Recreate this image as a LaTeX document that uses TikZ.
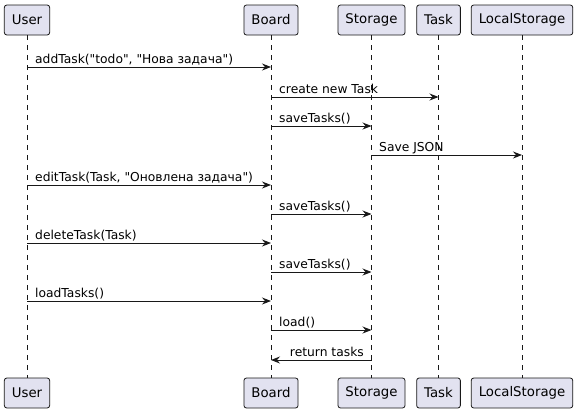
\documentclass[tikz,border=0pt]{standalone}
\usepackage{fontspec}
\setmainfont{DejaVu Sans}[Ligatures=TeXOff]
\usetikzlibrary{arrows.meta, positioning}
\definecolor{partfill}{HTML}{E2E2F0}
\definecolor{partline}{HTML}{181818}
\tikzset{
  part/.style={draw=partline, fill=partfill, rounded corners=2.5pt, line width=0.8pt,
    minimum height=30pt, inner xsep=7.5pt, font=\fontsize{13.3}{15}\selectfont},
  life/.style={draw=partline, line width=0.5pt, dash pattern=on 5pt off 5pt},
  msg/.style={draw=partline, line width=0.9pt, -{Stealth[length=9pt, width=7pt, inset=3pt]}},
  lbl/.style={inner sep=0pt, font=\fontsize{12.3}{14}\selectfont}
}
\begin{document}
\begin{tikzpicture}[x=1pt, y=-1pt]
    \useasboundingbox (0,0) rectangle (578,413);

    % Participants
    \node[part] (uT) at (27,20) {User};
    \node[part] (bT) at (271,20) {Board};
    \node[part] (sT) at (371.5,20) {Storage};
    \node[part] (tT) at (438.5,20) {Task};
    \node[part] (lT) at (522,20) {LocalStorage};

    \node[part] (uB) at (27,393) {User};
    \node[part] (bB) at (271,393) {Board};
    \node[part] (sB) at (371.5,393) {Storage};
    \node[part] (tB) at (438.5,393) {Task};
    \node[part] (lB) at (522,393) {LocalStorage};

    % Lifelines
    \draw[life] (uT) -- (uB);
    \draw[life] (bT) -- (bB);
    \draw[life] (sT) -- (sB);
    \draw[life] (tT) -- (tB);
    \draw[life] (lT) -- (lB);

    % Messages
    \draw[msg] (uT |- 0,67) -- (bT |- 0,67);
    \node[lbl, anchor=base west] (m1) at (35,63) {addTask("todo", "Нова задача")};
    \draw[msg] (bT |- 0,97) -- (tT |- 0,97);
    \node[lbl, anchor=base west] (m2) at (279,93) {create new Task};
    \draw[msg] (bT |- 0,126) -- (sT |- 0,126);
    \node[lbl, anchor=base west] (m3) at (279,122) {saveTasks()};
    \draw[msg] (sT |- 0,155) -- (lT |- 0,155);
    \node[lbl, anchor=base west] (m4) at (379,151) {Save JSON};
    \draw[msg] (uT |- 0,185) -- (bT |- 0,185);
    \node[lbl, anchor=base west] (m5) at (35,181) {editTask(Task, "Оновлена задача")};
    \draw[msg] (bT |- 0,214) -- (sT |- 0,214);
    \node[lbl, anchor=base west] (m6) at (279,210) {saveTasks()};
    \draw[msg] (uT |- 0,243) -- (bT |- 0,243);
    \node[lbl, anchor=base west] (m7) at (35,239) {deleteTask(Task)};
    \draw[msg] (bT |- 0,272) -- (sT |- 0,272);
    \node[lbl, anchor=base west] (m8) at (279,268) {saveTasks()};
    \draw[msg] (uT |- 0,301) -- (bT |- 0,301);
    \node[lbl, anchor=base west] (m9) at (35,297) {loadTasks()};
    \draw[msg] (bT |- 0,330) -- (sT |- 0,330);
    \node[lbl, anchor=base west] (m10) at (279,326) {load()};
    \draw[msg] (sT |- 0,360) -- (bT |- 0,360);
    \node[lbl, anchor=base east] (m11) at (364,356) {return tasks};
\end{tikzpicture}
\end{document}
